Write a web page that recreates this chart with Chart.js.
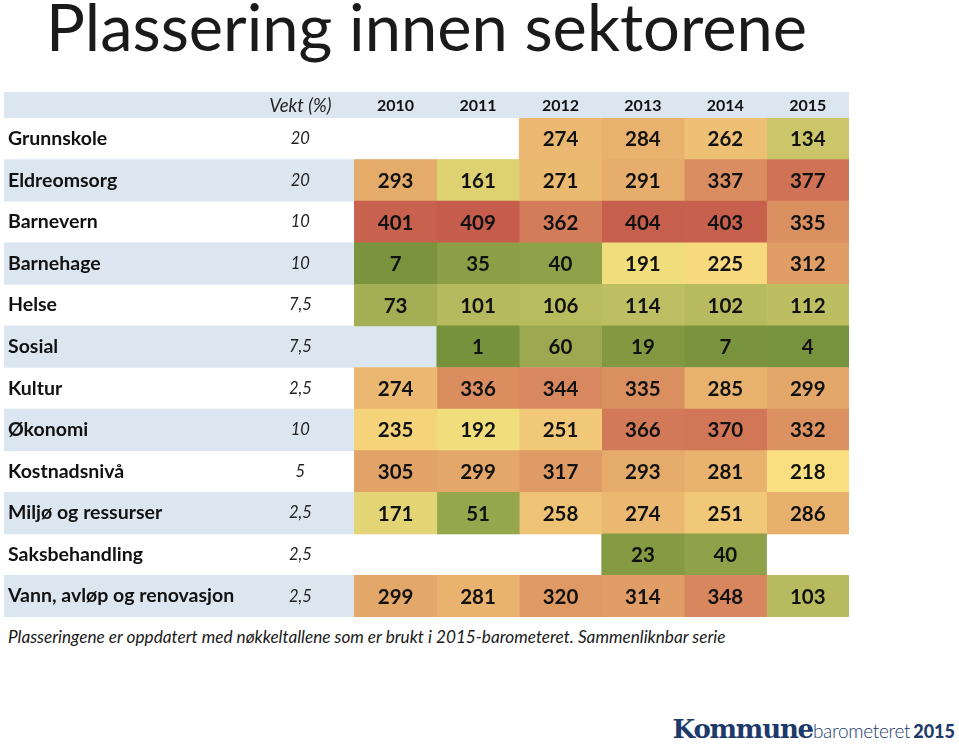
<!DOCTYPE html>
<html>
<head>
<meta charset="utf-8">
<script src="https://cdn.jsdelivr.net/npm/chart.js@4"></script>
<style>
  html, body { margin: 0; padding: 0; background: #fff; }
  body { width: 959px; height: 748px; position: relative; overflow: hidden; font-family: Lato, "Open Sans", sans-serif; }
  #title { position: absolute; left: 46px; top: -13px; font-size: 65px; color: #1a1a1a; white-space: nowrap; }
  #note { position: absolute; left: 8px; top: 626px; font-size: 17.2px; font-style: italic; color: #1a1a1a; white-space: nowrap; }
  #logo { position: absolute; right: 4px; top: 714px; white-space: nowrap; color: #1d3a6a; }
  #logo .k { font-family: "DejaVu Serif", serif; font-weight: bold; font-size: 26px; letter-spacing: -1.2px; }
  #logo .b { font-family: Lato, sans-serif; font-weight: 300; font-size: 19px; letter-spacing: -0.3px; }
  #logo .y { font-family: Lato, sans-serif; font-weight: 900; font-size: 18px; margin-left: 3px; }
  #table { position: absolute; left: 0; top: 88px; }
</style>
</head>
<body>
<div id="title">Plassering innen sektorene</div>
<canvas id="table" width="959" height="535"></canvas>
<div id="note">Plasseringene er oppdatert med nøkkeltallene som er brukt i 2015-barometeret. Sammenliknbar serie</div>
<div id="logo"><span class="k">Kommune</span><span class="b">barometeret</span><span class="y">2015</span></div>

<script>
// rader og kolonner
const sectors = ['Grunnskole', 'Eldreomsorg', 'Barnevern', 'Barnehage', 'Helse', 'Sosial', 'Kultur',
  'Økonomi', 'Kostnadsnivå', 'Miljø og ressurser', 'Saksbehandling', 'Vann, avløp og renovasjon'];
const weights = ['20', '20', '10', '10', '7,5', '7,5', '2,5', '10', '5', '2,5', '2,5', '2,5'];
const years = ['2010', '2011', '2012', '2013', '2014', '2015'];

// plasseringer per år (null = ingen verdi)
const y2010 = [null, 293, 401, 7, 73, null, 274, 235, 305, 171, null, 299];
const y2011 = [null, 161, 409, 35, 101, 1, 336, 192, 299, 51, null, 281];
const y2012 = [274, 271, 362, 40, 106, 60, 344, 251, 317, 258, null, 320];
const y2013 = [284, 291, 404, 191, 114, 19, 335, 366, 293, 274, 23, 314];
const y2014 = [262, 337, 403, 225, 102, 7, 285, 370, 281, 251, 40, 348];
const y2015 = [134, 377, 335, 312, 112, 4, 299, 332, 218, 286, null, 103];
const series = [y2010, y2011, y2012, y2013, y2014, y2015];

const STRIPE = '#dce6f1';
const LABEL_MIN = -4.25;   // plass til sektornavn og vekt
const VEKT_POS = -0.655;

// fargeskala grønn - gul - rød
const scaleStops = [
  { v: 1, c: [118, 146, 60] },
  { v: 210, c: [252, 228, 130] },
  { v: 409, c: [198, 92, 76] }
];
function colorFor(v) {
  let a = scaleStops[0], b = scaleStops[1];
  if (v > scaleStops[1].v) { a = scaleStops[1]; b = scaleStops[2]; }
  const t = Math.max(0, Math.min(1, (v - a.v) / (b.v - a.v)));
  const c = a.c.map((x, i) => Math.round(x + (b.c[i] - x) * t));
  return 'rgb(' + c.join(',') + ')';
}

const datasets = series.map((vals, j) => ({
  label: years[j],
  values: vals,
  data: vals.map(v => v == null ? null : [j, j + 1]),
  backgroundColor: vals.map(v => v == null ? 'rgba(0,0,0,0)' : colorFor(v)),
  order: 1
}));
datasets.push({
  label: 'stripe',
  data: sectors.map((s, i) => i % 2 === 1 ? [LABEL_MIN, years.length] : null),
  backgroundColor: STRIPE,
  order: 5
});

// tekst i tabellen
const tableText = {
  id: 'tableText',
  beforeDraw(chart) {
    const { ctx, chartArea, scales } = chart;
    const x = scales.x;
    ctx.save();
    ctx.fillStyle = STRIPE;
    ctx.fillRect(chartArea.left, chartArea.top - 26, chartArea.right - chartArea.left, 26);
    ctx.textBaseline = 'middle';
    ctx.textAlign = 'center';
    const hy = chartArea.top - 12;
    ctx.fillStyle = '#222';
    ctx.font = 'italic 18.5px Lato';
    ctx.fillText('Vekt (%)', x.getPixelForValue(VEKT_POS), hy);
    ctx.fillStyle = '#111';
    ctx.font = 'bold 16px Lato';
    years.forEach((yr, j) => ctx.fillText(yr, x.getPixelForValue(j + 0.5), hy));
    ctx.restore();
  },
  afterDatasetsDraw(chart) {
    const { ctx, chartArea, scales } = chart;
    const x = scales.x, y = scales.y;
    ctx.save();
    ctx.textBaseline = 'middle';
    sectors.forEach((s, i) => {
      const py = y.getPixelForValue(i);
      ctx.textAlign = 'left';
      ctx.fillStyle = '#111';
      ctx.font = 'bold 19.5px Lato';
      ctx.fillText(s, chartArea.left + 4, py);
      ctx.textAlign = 'center';
      ctx.fillStyle = '#222';
      ctx.font = 'italic 16.5px Lato';
      ctx.fillText(weights[i], x.getPixelForValue(VEKT_POS), py);
    });
    ctx.textAlign = 'center';
    ctx.fillStyle = '#111';
    ctx.font = 'bold 20.5px Lato';
    chart.data.datasets.forEach((ds, di) => {
      if (!ds.values) return;
      chart.getDatasetMeta(di).data.forEach((el, i) => {
        const v = ds.values[i];
        if (v == null) return;
        const p = el.getCenterPoint();
        ctx.fillText(String(v), p.x, p.y + 1);
      });
    });
    ctx.restore();
  }
};

new Chart(document.getElementById('table'), {
  type: 'bar',
  data: { labels: sectors, datasets },
  options: {
    indexAxis: 'y',
    responsive: false,
    animation: false,
    layout: { padding: { left: 4, right: 110, top: 30, bottom: 6 } },
    datasets: { bar: { grouped: false, barPercentage: 1, categoryPercentage: 1, borderWidth: 0 } },
    scales: {
      x: { type: 'linear', min: LABEL_MIN, max: years.length, display: false },
      y: { type: 'category', display: false }
    },
    plugins: { legend: { display: false }, tooltip: { enabled: false } }
  },
  plugins: [tableText]
});
</script>
</body>
</html>
